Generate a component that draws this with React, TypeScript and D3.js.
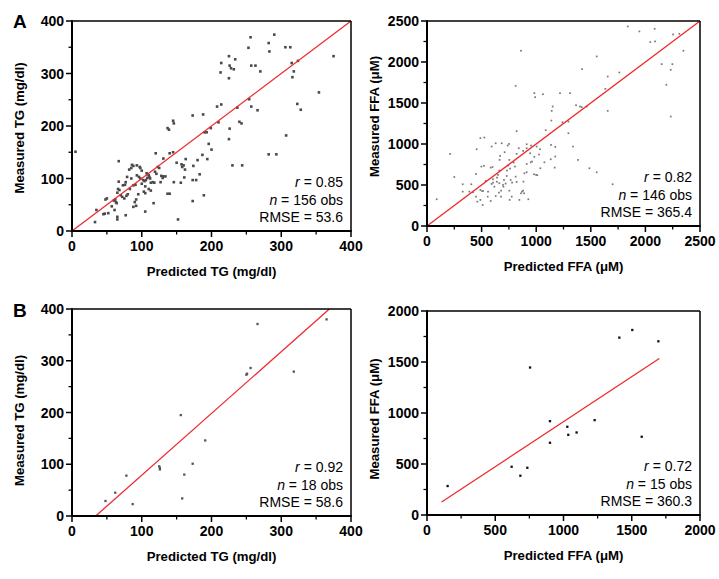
import React from 'react';
import * as d3 from 'd3';

// Panel A: TG (predicted vs measured, mg/dl)
const tgPointsA: [number, number][] = [
  [256,369],[290,374],[253,349],[282,358],[283,342],[306,350],[313,350],[375,333],
  [225,333],[234,327],[214,320],[226,315],[228,310],[213,302],[225,291],[232,308],
  [257,315],[263,315],[270,304],[315,320],[318,304],[316,293],[324,324],[354,264],
  [323,242],[328,231],[257,237],[266,230],[254,251],[237,235],[240,208],[243,205],
  [226,195],[225,175],[230,125],[244,125],[282,146],[293,146],[307,182],[214,241],
  [208,237],[210,207],[199,196],[196,166],[200,155],[190,188],[193,188],[188,222],
  [173,220],[187,145],[194,137],[180,135],[174,124],[183,108],[173,97],[178,97],
  [173,57],[189,68],[145,210],[146,205],[137,196],[139,193],[145,150],[140,148],
  [120,148],[131,138],[150,130],[157,127],[160,125],[158,122],[163,137],[162,117],
  [156,92],[161,102],[146,93],[137,71],[140,71],[152,22],[134,104],[131,104],
  [128,105],[123,122],[125,120],[119,113],[121,109],[112,100],[111,103],[108,101],
  [106,97],[104,95],[102,97],[108,108],[110,106],[113,92],[116,93],[105,85],
  [100,90],[98,120],[100,115],[97,122],[93,125],[88,124],[85,120],[86,126],
  [82,117],[91,88],[88,87],[83,80],[103,75],[105,72],[110,80],[113,77],
  [117,53],[105,37],[95,70],[92,60],[90,55],[88,46],[92,48],[80,70],
  [78,67],[75,62],[72,65],[70,68],[77,93],[76,88],[73,87],[67,94],
  [66,80],[68,78],[65,73],[67,133],[62,60],[60,58],[63,55],[64,53],
  [61,40],[65,27],[65,22],[77,30],[57,47],[50,62],[48,60],[47,33],
  [45,32],[52,34],[35,40],[33,17],[5,151],[79,103],[93,106],[96,103],
  [85,100],[127,93],[118,92],[130,101],[98,100],[107,110]
];

// Panel A right: FFA (µM)
const ffaPointsA: [number, number][] = [
  [1838,2434],[1945,2373],[2085,2405],[2045,2243],[2088,2251],[2253,2336],[2311,2344],[2348,2137],
  [2247,1974],[2149,1974],[2232,1905],[2192,1722],[2232,1335],[861,2137],[1554,2068],[1420,1913],
  [1762,1872],[1655,1823],[1633,1673],[1655,1404],[812,1709],[983,1620],[990,1571],[1062,1607],
  [1218,1620],[1310,1620],[1151,1457],[1142,1404],[1365,1473],[1401,1457],[1417,1449],[1463,1457],
  [1295,1274],[1240,1265],[1139,1286],[1087,1168],[821,1156],[1295,1131],[1175,965],[953,981],
  [1004,969],[1133,814],[1075,777],[1026,871],[983,843],[962,786],[944,887],[913,948],
  [880,916],[840,948],[913,757],[950,777],[980,631],[999,623],[913,655],[892,643],
  [883,541],[880,431],[861,399],[889,399],[846,318],[928,326],[821,537],[812,602],
  [779,529],[754,431],[776,358],[757,318],[806,725],[794,774],[742,737],[754,806],
  [751,1001],[739,981],[711,900],[669,855],[665,806],[684,1009],[733,676],[662,676],
  [650,623],[641,590],[604,570],[605,529],[592,513],[617,480],[662,521],[696,501],
  [705,562],[678,431],[678,358],[659,407],[629,366],[559,419],[522,733],[525,1079],
  [583,712],[592,969],[629,1009],[498,725],[489,1071],[449,635],[537,550],[489,440],
  [504,427],[513,427],[489,318],[449,358],[461,297],[510,256],[406,509],[388,419],
  [327,509],[327,419],[250,598],[211,879],[89,326],[421,411],[455,936],[583,305],
  [556,358],[720,517],[766,562],[913,997],[1035,936],[1175,847],[1038,704],[1136,989],
  [1169,712],[1383,806],[1487,704],[1554,655],[1700,509],[1337,969],[870,420],[760,700],
  [700,480],[640,540],[820,880],[1010,620],[730,610],[600,720]
];

// Panel B left: TG (mg/dl)
const tgPointsB: [number, number][] = [
  [48,29],[62,45],[78,78],[87,23],[125,96],[126,90],[161,80],[158,34],
  [173,101],[156,195],[191,146],[251,275],[256,286],[266,371],[318,279],[365,380],
  [126,93],[250,273]
];

// Panel B right: FFA (µM)
const ffaPointsB: [number, number][] = [
  [151,284],[620,473],[684,385],[735,463],[755,1446],[901,920],[901,708],[1028,865],
  [1035,786],[1096,809],[1228,930],[1409,1739],[1504,1814],[1573,767],[1695,1703]
];

const tgTicks = [0, 100, 200, 300, 400];
const tgMinor = [50, 150, 250, 350];
const ffaTicksA = [0, 500, 1000, 1500, 2000, 2500];
const ffaMinorA = [250, 750, 1250, 1750, 2250];
const ffaTicksB = [0, 500, 1000, 1500, 2000];
const ffaMinorB = [250, 750, 1250, 1750];

const fitA: [number, number][] = [[0, 0], [400, 400]];
const fitFfaA: [number, number][] = [[0, 0], [2500, 2500]];
const fitB: [number, number][] = [[34, 0], [369, 400]];
const fitFfaB: [number, number][] = [[107, 127], [1702, 1534]];

const statsTgA = ['0.85', '156', '53.6'];
const statsFfaA = ['0.82', '146', '365.4'];
const statsTgB = ['0.92', '18', '58.6'];
const statsFfaB = ['0.72', '15', '360.3'];

const FONT = "'Liberation Sans', Arial, Helvetica, sans-serif";

type PanelProps = {
  left: number; right: number; top: number; bottom: number;
  max: number; ticks: number[]; minor: number[];
  points: [number, number][]; fit: [number, number][];
  xTitle: string; yTitle: string; stats: string[];
  dotSize: number; dotColor: string; yTitleDy?: number;
};

function Panel(p: PanelProps) {
  const x = d3.scaleLinear().domain([0, p.max]).range([p.left, p.right]);
  const y = d3.scaleLinear().domain([0, p.max]).range([p.bottom, p.top]);
  const line = d3.line<[number, number]>().x(d => x(d[0])).y(d => y(d[1]));
  const cx = (p.left + p.right) / 2;
  const cy = (p.top + p.bottom) / 2 + (p.yTitleDy || 0);
  const sx = p.right - 8;
  return (
    <g>
      {/* points */}
      {p.points.map((d, i) => (
        <rect key={i} x={x(d[0]) - p.dotSize / 2} y={y(d[1]) - p.dotSize / 2}
          width={p.dotSize} height={p.dotSize} fill={p.dotColor} />
      ))}
      {/* fit line */}
      <path d={line(p.fit) || ''} stroke="#ee2a2f" strokeWidth={1.3} fill="none" />
      {/* frame */}
      <line x1={p.left} x2={p.right} y1={p.top} y2={p.top} stroke="#000" strokeWidth={1.5} />
      <line x1={p.right} x2={p.right} y1={p.top} y2={p.bottom} stroke="#000" strokeWidth={1.5} />
      <line x1={p.left} x2={p.left} y1={p.top - 0.75} y2={p.bottom + 1} stroke="#000" strokeWidth={2} />
      <line x1={p.left - 1} x2={p.right + 0.75} y1={p.bottom} y2={p.bottom} stroke="#000" strokeWidth={2} />
      {/* y ticks */}
      {p.ticks.map(t => (
        <g key={'y' + t}>
          <line x1={p.left - 6} x2={p.left} y1={y(t)} y2={y(t)} stroke="#000" strokeWidth={1.5} />
          <text x={p.left - 8} y={y(t)} dy="0.36em" textAnchor="end" fontFamily={FONT}
            fontWeight="bold" fontSize={14}>{t}</text>
        </g>
      ))}
      {p.minor.map(t => (
        <line key={'ym' + t} x1={p.left - 3.5} x2={p.left} y1={y(t)} y2={y(t)} stroke="#000" strokeWidth={1.3} />
      ))}
      {/* x ticks */}
      {p.ticks.map(t => (
        <g key={'x' + t}>
          <line x1={x(t)} x2={x(t)} y1={p.bottom} y2={p.bottom + 6} stroke="#000" strokeWidth={1.5} />
          <text x={x(t)} y={p.bottom + 19.5} textAnchor="middle" fontFamily={FONT}
            fontWeight="bold" fontSize={14}>{t}</text>
        </g>
      ))}
      {p.minor.map(t => (
        <line key={'xm' + t} x1={x(t)} x2={x(t)} y1={p.bottom} y2={p.bottom + 3.5} stroke="#000" strokeWidth={1.3} />
      ))}
      {/* titles */}
      <text x={cx} y={p.bottom + 45} textAnchor="middle" fontFamily={FONT} fontWeight="bold"
        fontSize={13.2}>{p.xTitle}</text>
      <text transform={`translate(${p.left - 48},${cy}) rotate(-90)`} textAnchor="middle"
        fontFamily={FONT} fontWeight="bold" fontSize={13.2}>{p.yTitle}</text>
      {/* stats */}
      <text x={sx} y={p.bottom - 44} textAnchor="end" fontFamily={FONT} fontSize={14}>
        <tspan fontStyle="italic">r</tspan> = {p.stats[0]}
      </text>
      <text x={sx} y={p.bottom - 26.5} textAnchor="end" fontFamily={FONT} fontSize={14}>
        <tspan fontStyle="italic">n</tspan> = {p.stats[1]} obs
      </text>
      <text x={sx} y={p.bottom - 9} textAnchor="end" fontFamily={FONT} fontSize={14}>
        RMSE = {p.stats[2]}
      </text>
    </g>
  );
}

export default function App() {
  return (
    <svg width={719} height={579} viewBox="0 0 719 579"
      style={{ position: 'absolute', left: 0, top: 0, background: '#fff' }}>
      <rect x={0} y={0} width={719} height={579} fill="#fff" />
      <text x={13} y={28} fontFamily={FONT} fontWeight="bold" fontSize={19}>A</text>
      <text x={13} y={317} fontFamily={FONT} fontWeight="bold" fontSize={19}>B</text>
      <Panel left={72} right={351} top={21} bottom={231} max={400} ticks={tgTicks} minor={tgMinor}
        points={tgPointsA} fit={fitA} xTitle="Predicted TG (mg/dl)" yTitle="Measured TG (mg/dl)"
        stats={statsTgA} dotSize={2.6} dotColor="#4a4a4a" yTitleDy={2} />
      <Panel left={427} right={700} top={21} bottom={226} max={2500} ticks={ffaTicksA} minor={ffaMinorA}
        points={ffaPointsA} fit={fitFfaA} xTitle="Predicted FFA (μM)" yTitle="Measured FFA (μM)"
        stats={statsFfaA} dotSize={1.7} dotColor="#777" yTitleDy={-7} />
      <Panel left={72} right={351} top={309} bottom={516} max={400} ticks={tgTicks} minor={tgMinor}
        points={tgPointsB} fit={fitB} xTitle="Predicted TG (mg/dl)" yTitle="Measured TG (mg/dl)"
        stats={statsTgB} dotSize={2.3} dotColor="#555" yTitleDy={8} />
      <Panel left={427} right={700} top={311} bottom={515} max={2000} ticks={ffaTicksB} minor={ffaMinorB}
        points={ffaPointsB} fit={fitFfaB} xTitle="Predicted FFA (μM)" yTitle="Measured FFA (μM)"
        stats={statsFfaB} dotSize={2.3} dotColor="#111" yTitleDy={6} />
    </svg>
  );
}
